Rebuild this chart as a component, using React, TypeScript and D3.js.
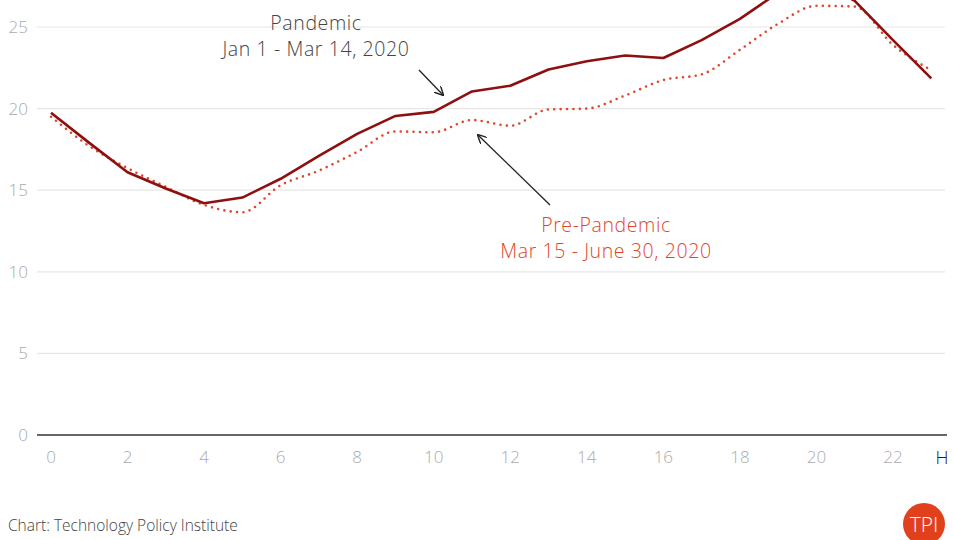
import React from "react";
import * as d3 from "d3";

const hours = [0,1,2,3,4,5,6,7,8,9,10,11,12,13,14,15,16,17,18,19,20,21,22,23];
const pandemic = [19.75,17.9,16.1,15.1,14.2,14.55,15.7,17.1,18.45,19.55,19.8,21.05,21.4,22.4,22.9,23.25,23.1,24.2,25.5,27.1,27.9,26.6,24.2,21.85];
const prePandemic = [19.5,17.7,16.35,15.2,14.1,13.65,15.3,16.2,17.35,18.6,18.55,19.3,18.95,19.95,20.0,20.8,21.75,22.1,23.6,25.2,26.3,26.25,23.9,22.35];
const yTicks = [0,5,10,15,20,25];
const xTicks = [0,2,4,6,8,10,12,14,16,18,20,22];

const FONT = "'Open Sans', Lato, sans-serif";

export default function App() {
  const W = 954, H = 540;
  const x = d3.scaleLinear().domain([0, 22]).range([51, 893]);
  const y = d3.scaleLinear().domain([0, 25]).range([435, 27]);
  const solid = d3.line<number>().x((_, i) => x(hours[i])).y(d => y(d));
  const dotted = d3.line<number>().x((_, i) => x(hours[i])).y(d => y(d)).curve(d3.curveMonotoneX);
  const ann = { fontSize: 19.5, fontWeight: 300, letterSpacing: 0.6 } as const;
  return (
    <svg width={W} height={H} style={{ position: "absolute", left: 0, top: 0, background: "#fff" }} fontFamily={FONT}>
      <defs>
        <marker id="ah" viewBox="0 0 10 10" refX="9" refY="5" markerWidth="9" markerHeight="9" orient="auto-start-reverse" markerUnits="userSpaceOnUse">
          <path d="M0,0 L10,5 L0,10" fill="none" stroke="#222" strokeWidth="1.6" />
        </marker>
      </defs>
      {yTicks.filter(t => t > 0).map(t => (
        <line key={"g" + t} x1={37} x2={945} y1={y(t)} y2={y(t)} stroke="#e6e6e6" strokeWidth={1.2} />
      ))}
      {yTicks.map(t => (
        <text key={"yt" + t} x={28} y={y(t) + 6} textAnchor="end" fontSize={17} fontWeight={300} fill="#aaa">{t}</text>
      ))}
      {xTicks.map(t => (
        <text key={"xt" + t} x={x(t)} y={463} textAnchor="middle" fontSize={17} fontWeight={300} fill="#aaa">{t}</text>
      ))}
      <text x={942} y={464} textAnchor="middle" fontSize={18} fontWeight={300} fill="#222">H</text>
      <line x1={37} x2={947} y1={y(0)} y2={y(0)} stroke="#666" strokeWidth={2} />
      <path d={dotted(prePandemic) || ""} fill="none" stroke="#E0472A" strokeWidth={2.6} strokeDasharray="0 6.4" strokeLinecap="round" />
      <path d={solid(pandemic) || ""} fill="none" stroke="#8E0F0F" strokeWidth={2.6} strokeLinejoin="round" />
      <text x={316} y={30} textAnchor="middle" {...ann} fill="#444">Pandemic</text>
      <text x={316} y={56} textAnchor="middle" {...ann} fill="#444">Jan 1 - Mar 14, 2020</text>
      <line x1={419} y1={70} x2={443} y2={95} stroke="#222" strokeWidth={1.3} markerEnd="url(#ah)" />
      <line x1={550} y1={205} x2={478} y2={135} stroke="#222" strokeWidth={1.3} markerEnd="url(#ah)" />
      <text x={606} y={232} textAnchor="middle" {...ann} fill="#E0472A">Pre-Pandemic</text>
      <text x={606} y={258} textAnchor="middle" {...ann} fill="#E0472A">Mar 15 - June 30, 2020</text>
      <text x={8} y={531} fontSize={15.5} fontWeight={300} fill="#444">Chart: Technology Policy Institute</text>
      <circle cx={924} cy={524} r={21} fill="#E0401C" />
      <text x={924} y={532} textAnchor="middle" fontSize={21} fontWeight={300} fill="#fff">TPI</text>
    </svg>
  );
}
